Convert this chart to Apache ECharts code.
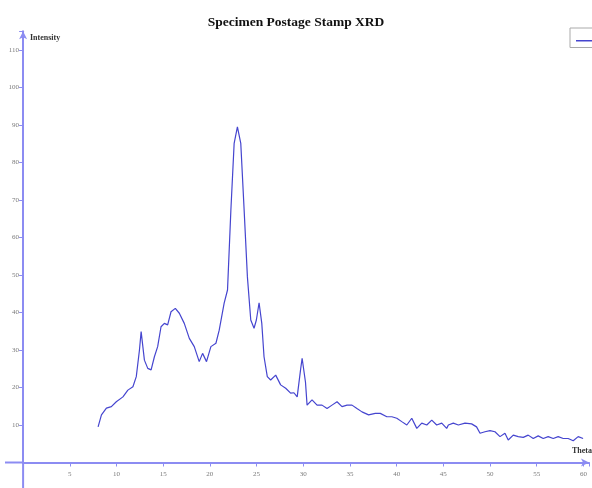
<!DOCTYPE html>
<html>
<head>
<meta charset="utf-8">
<script src="https://cdn.jsdelivr.net/npm/echarts@6/dist/echarts.min.js"></script>
<style>html,body{margin:0;padding:0;background:#fff}#c{width:592px;height:488px}</style>
</head>
<body>
<div id="c"></div>
<script>
var titleText = 'Specimen Postage Stamp XRD';
var xName = 'Theta';
var yName = 'Intensity';
var theta = [8.03,8.39,8.92,9.45,9.98,10.69,11.22,11.76,12.12,12.46,12.64,12.99,13.35,13.71,14.06,14.41,14.77,15.13,15.48,15.84,16.30,16.73,17.26,17.80,18.33,18.86,19.22,19.64,20.11,20.65,21.00,21.53,21.89,22.25,22.60,22.95,23.31,23.67,24.02,24.38,24.73,24.98,25.27,25.56,25.80,26.15,26.51,27.05,27.58,28.12,28.65,29.00,29.35,29.71,29.88,30.24,30.41,30.94,31.48,32.01,32.55,33.08,33.62,34.15,34.69,35.22,35.75,36.29,37.00,37.71,38.25,38.95,39.49,40.02,40.55,41.09,41.62,42.16,42.69,43.23,43.76,44.29,44.83,45.36,45.54,46.07,46.61,47.32,48.03,48.56,48.93,49.46,50.00,50.53,51.07,51.60,51.95,52.49,53.02,53.56,54.09,54.63,55.16,55.70,56.23,56.77,57.30,57.84,58.37,58.91,59.44,59.97];
var intensity = [9.5,12.7,14.5,14.9,16.2,17.5,19.3,20.2,22.9,30.0,34.9,27.3,25.1,24.7,28.2,30.9,36.2,37.1,36.7,40.2,41.1,39.8,37.1,33.1,30.9,26.9,29.1,26.9,30.9,31.8,35.3,42.5,46.0,67.3,85.1,89.5,85.1,67.3,49.5,38.0,35.8,38.0,42.6,37.1,28.2,22.9,22.0,23.3,20.7,19.8,18.5,18.6,17.5,24.7,27.8,21.4,15.3,16.7,15.3,15.3,14.4,15.3,16.2,14.9,15.3,15.3,14.4,13.5,12.7,13.1,13.1,12.2,12.2,11.8,10.9,10.0,11.8,9.1,10.5,10.0,11.3,10.0,10.5,9.1,10.0,10.5,10.0,10.5,10.3,9.5,7.8,8.2,8.5,8.2,6.9,7.8,6.0,7.3,6.9,6.7,7.3,6.4,7.1,6.4,6.9,6.4,6.9,6.4,6.4,5.8,6.9,6.4];

var pts = theta.map(function(t,i){return [t,intensity[i]];});
var axisBlue = '#8c8cf2';
function fmtX(v){ v = Number(v); return (v>0 && Math.abs(v%5)<1e-6) ? String(Math.round(v)) : ''; }
function fmtY(v){ v = Number(v); return (v>0 && Math.abs(v%10)<1e-6) ? String(Math.round(v)) : ''; }
var chart = echarts.init(document.getElementById('c'), null, {renderer:'canvas'});
chart.setOption({
  backgroundColor:'#ffffff',
  animation:false,
  title:{text:titleText,left:'center',top:11,itemGap:0,
    textStyle:{fontFamily:'Liberation Serif',fontWeight:'bold',fontSize:13.5,color:'#111'}},
  legend:{show:true,left:570,top:28,orient:'vertical',padding:[12,6,6,6],
    borderColor:'#aaaaaa',borderWidth:1,itemWidth:30,itemHeight:1.5,icon:'rect',
    formatter:function(){return '';},textStyle:{fontSize:1},data:['XRD']},
  grid:{left:23.1,right:0,top:31.25,bottom:25.5},
  xAxis:{type:'value',min:0,max:60.6,interval:5,
    axisLine:{onZero:true,symbol:['none','arrow'],symbolSize:[6,8],
      lineStyle:{color:axisBlue,width:2}},
    axisTick:{show:true,length:4,lineStyle:{color:axisBlue,width:1}},
    axisLabel:{show:true,margin:8,fontSize:7,color:'#7a7a7a',fontFamily:'Liberation Serif',
      formatter:fmtX},
    splitLine:{show:false}},
  yAxis:{type:'value',min:0,max:115,interval:10,
    axisLine:{show:true,onZero:true,symbol:['none','arrow'],symbolSize:[6,8],
      lineStyle:{color:axisBlue,width:2}},
    axisTick:{show:true,length:4,lineStyle:{color:axisBlue,width:1}},
    axisLabel:{show:true,margin:4,fontSize:7,color:'#7a7a7a',fontFamily:'Liberation Serif',
      formatter:fmtY},
    splitLine:{show:false}},
  graphic:[
    {type:'line',shape:{x1:5,y1:462.5,x2:23.1,y2:462.5},style:{stroke:axisBlue,lineWidth:2},silent:true},
    {type:'line',shape:{x1:23.1,y1:462.5,x2:23.1,y2:488},style:{stroke:axisBlue,lineWidth:2},silent:true},
    {type:'text',left:30,top:34,style:{text:yName,fontSize:8,fontWeight:'bold',fontFamily:'Liberation Serif',fill:'#333'}},
    {type:'text',left:572,top:447,style:{text:xName,fontSize:8,fontWeight:'bold',fontFamily:'Liberation Serif',fill:'#333'}}
  ],
  series:[{name:'XRD',type:'line',data:pts,showSymbol:false,smooth:false,
    lineStyle:{color:'#4545cf',width:1.2},itemStyle:{color:'#4545cf'}}]
});
</script>
</body>
</html>
